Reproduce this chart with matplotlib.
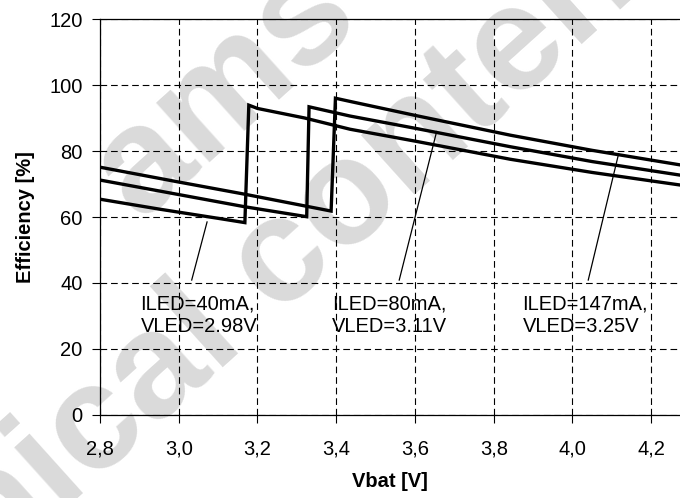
import numpy as np
import matplotlib
matplotlib.use('Agg')
import matplotlib.pyplot as plt
from matplotlib.ticker import FuncFormatter

plt.rcParams['font.family'] = ['Liberation Sans', 'DejaVu Sans']

# Efficiency curves (Vbat [V], efficiency [%])
vbat_40 = [2.80, 2.95, 3.10, 3.168, 3.178, 3.20, 3.32, 3.435, 3.60, 3.842, 4.05, 4.273]
eff_40 = [65.4, 62.4, 59.6, 58.3, 93.9, 92.9, 90.0, 86.6, 83.0, 77.5, 73.5, 69.7]

vbat_80 = [2.80, 3.00, 3.168, 3.325, 3.331, 3.435, 3.60, 3.842, 4.05, 4.273]
eff_80 = [71.2, 66.8, 63.1, 60.1, 93.4, 90.6, 86.9, 81.3, 76.8, 72.7]

vbat_147 = [2.80, 3.00, 3.168, 3.387, 3.398, 3.44, 3.60, 3.842, 4.05, 4.273]
eff_147 = [75.1, 70.6, 66.9, 61.8, 96.0, 94.9, 90.8, 84.8, 80.2, 75.8]

labels = ['ILED=40mA,\nVLED=2.98V', 'ILED=80mA,\nVLED=3.11V', 'ILED=147mA,\nVLED=3.25V']
label_xy = [(2.903, 30.3), (3.39, 30.3), (3.873, 30.3)]
leader_from = [(3.033, 40.9), (3.56, 40.9), (4.04, 40.9)]
leader_to = [(3.072, 58.5), (3.655, 85.9), (4.117, 79.1)]

fig = plt.figure(figsize=(6.8, 4.98), dpi=100)
ax = fig.add_axes([0.147, 0.1667, 0.853, 0.7951])

# faint watermark, drawn before the axes so everything sits on top of it
fig.text(0.331, 0.815, 'ams', fontsize=108, fontweight='bold', color='#dadada',
         rotation=42, ha='center', va='center', zorder=-5)
fig.text(0.287, 0.318, 'technical content', fontsize=108, fontweight='bold', color='#dadada',
         rotation=42, ha='center', va='center', zorder=-5)
ax.patch.set_alpha(0)

for xs, ys in [(vbat_40, eff_40), (vbat_80, eff_80), (vbat_147, eff_147)]:
    ax.plot(xs, ys, color='black', linewidth=2.4, solid_joinstyle='miter', zorder=3)

for lab, xy, p0, p1 in zip(labels, label_xy, leader_from, leader_to):
    ax.text(xy[0], xy[1], lab, fontsize=14.5, ha='left', va='center', linespacing=1.2, zorder=4)
    ax.plot([p0[0], p1[0]], [p0[1], p1[1]], color='black', linewidth=0.9, zorder=4)

ax.set_xlim(2.8, 4.273)
ax.set_ylim(0, 120)
ax.set_xticks([2.8, 3.0, 3.2, 3.4, 3.6, 3.8, 4.0, 4.2])
ax.set_yticks([0, 20, 40, 60, 80, 100, 120])
ax.xaxis.set_major_formatter(FuncFormatter(lambda v, p: f'{v:.1f}'.replace('.', ',')))
ax.grid(True, color='black', linewidth=0.8, linestyle=(0, (6, 3.5)))
ax.set_axisbelow(True)
ax.tick_params(direction='out', length=5.5, width=0.8, labelsize=14.5)
ax.tick_params(axis='x', pad=12)
ax.tick_params(axis='y', pad=7)

ax.spines['right'].set_visible(False)
for s in ['left', 'bottom', 'top']:
    ax.spines[s].set_linewidth(0.9)

ax.set_xlabel('Vbat [V]', fontsize=14.5, fontweight='bold', labelpad=10)
ax.set_ylabel('Efficiency [%]', fontsize=14.5, fontweight='bold', labelpad=10)

fig.savefig('out.png', dpi=100, facecolor='white')
